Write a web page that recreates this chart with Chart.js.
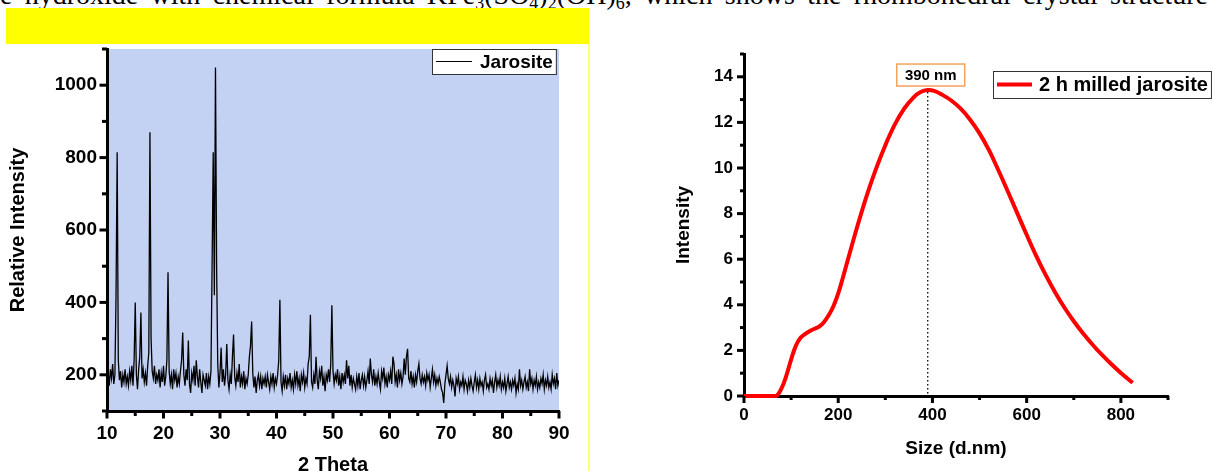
<!DOCTYPE html>
<html>
<head>
<meta charset="utf-8">
<script src="https://cdn.jsdelivr.net/npm/chart.js@4.4.1/dist/chart.umd.min.js"></script>
<style>
html,body{margin:0;padding:0;background:#fff;}
body{width:1213px;height:471px;overflow:hidden;position:relative;}
#topText{position:absolute;left:0;top:-19px;font:28px 'Liberation Serif','Times New Roman',serif;line-height:27px;white-space:nowrap;color:#000;}
#topText sub{font-size:18px;line-height:0;vertical-align:-5px;}
#yellowBar{position:absolute;left:6px;top:8px;width:583px;height:36px;background:#ffff00;}
#yellowLine{position:absolute;left:588px;top:44px;width:2px;height:427px;background:#ffff70;}
#c1{position:absolute;left:0;top:0;}
#c2{position:absolute;left:600px;top:0;}
</style>
</head>
<body>
<div id="topText">e hydroxide with chemical formula KFe<sub>3</sub>(SO<sub>4</sub>)<sub>2</sub>(OH)<sub>6</sub>, which shows the rhombohedral crystal structure</div>
<div id="yellowBar"></div>
<div id="yellowLine"></div>
<canvas id="c1" width="600" height="500"></canvas>
<canvas id="c2" width="613" height="471"></canvas>
<script>
// ---------------- DATA ----------------
// XRD pattern (Jarosite): intensity sampled every 0.2 degree 2-theta from 10 to 90
const xrdStart = 10;
const xrdStep = 0.2;
const xrdIntensity = [
  185,205,170,215,190,230,175,200,420,815,240,185,210,165,200,180,215,175,195,170,
  210,185,225,170,240,400,200,160,215,250,372,190,215,180,205,170,225,260,870,300,
  210,190,225,175,200,185,215,165,205,180,225,170,195,240,483,210,175,200,160,215,
  185,205,165,195,175,210,240,317,200,170,215,185,295,175,150,205,185,225,170,240,
  195,165,215,180,150,200,185,170,205,160,195,175,210,500,815,420,1049,500,230,165,
  205,275,180,215,170,200,285,185,160,200,175,250,311,195,170,205,180,230,165,195,
  175,210,160,190,175,200,250,280,347,205,165,195,150,185,200,170,195,160,190,175,
  195,165,200,180,160,195,175,205,165,190,175,200,240,407,180,155,195,170,200,160,
  190,175,205,165,185,160,200,175,210,170,190,155,200,180,205,165,190,175,230,250,
  366,180,165,200,175,250,185,160,210,190,225,170,195,155,200,185,215,180,230,392,
  210,175,200,185,215,170,195,160,205,180,200,175,240,190,225,170,200,165,190,175,
  160,195,170,205,160,185,200,170,195,165,185,210,175,245,200,180,215,170,195,175,
  205,180,160,210,190,220,175,195,165,200,185,210,175,250,230,180,200,165,215,185,
  205,175,195,245,200,250,272,190,180,210,175,195,165,200,180,210,230,190,175,200,
  180,195,170,205,185,200,165,190,215,180,200,170,190,175,195,180,160,150,122,175,
  200,225,190,175,195,165,185,170,140,190,175,195,160,180,170,195,160,185,175,155,
  185,165,190,170,155,180,200,165,185,160,190,170,180,155,185,200,165,175,160,190,
  170,185,150,180,200,165,185,170,195,160,180,165,190,155,175,195,165,180,160,185,
  170,190,150,175,160,215,170,185,160,180,195,165,180,155,215,175,190,160,185,170,
  195,160,180,165,190,175,200,160,185,170,195,165,180,160,200,175,190,160,205,170,
  185
];
const xrdLabel = 'Jarosite';

// DLS size distribution (2 h milled jarosite)
const sizeNm = [0,20,40,60,70,80,90,100,110,120,130,140,150,160,170,180,190,200,210,220,
  240,260,280,300,320,340,360,375,390,405,420,440,460,480,500,520,540,560,580,600,
  620,640,660,680,700,720,740,760,780,800,825];
const dlsIntensity = [0,0,0,0,0.02,0.35,0.9,1.6,2.2,2.55,2.72,2.85,2.95,3.05,3.25,3.55,3.95,4.5,5.2,5.94,
  7.4,8.76,9.95,11.0,11.9,12.6,13.1,13.33,13.42,13.37,13.22,12.96,12.6,12.12,11.52,10.78,9.9,8.97,8.02,7.07,
  6.16,5.32,4.56,3.88,3.28,2.74,2.25,1.8,1.39,1.01,0.58];
const dlsLabel = '2 h milled jarosite';

// axis titles
const xrdXTitle = '2 Theta';
const xrdYTitle = 'Relative Intensity';
const dlsXTitle = 'Size (d.nm)';
const dlsYTitle = 'Intensity';

// ---------------- top text fitting ----------------
(function(){
  const el = document.getElementById('topText');
  const w = el.getBoundingClientRect().width;
  const spaces = (el.textContent.match(/ /g) || []).length;
  el.style.wordSpacing = Math.max(0, (1208 - w) / spaces) + 'px';
})();

// ---------------- CHART SETUP ----------------
Chart.defaults.font.family = "'Liberation Sans', Arial, sans-serif";
Chart.defaults.color = '#000';

const decor = {
  id: 'decor',
  beforeDraw(chart, args, opts) {
    if (opts.areaColor) {
      const {ctx, chartArea: a} = chart;
      ctx.save();
      ctx.fillStyle = opts.areaColor;
      ctx.fillRect(a.left, a.top, a.right - a.left, a.bottom - a.top);
      ctx.restore();
    }
  },
  afterDraw(chart, args, opts) {
    const ctx = chart.ctx;
    // major + minor tick marks from the library's own ticks
    ['x', 'y'].forEach(id => {
      const s = chart.scales[id];
      const major = s.ticks.map(t => t.value);
      const minor = [];
      for (let i = 0; i < major.length - 1; i++) minor.push((major[i] + major[i + 1]) / 2);
      if (major.length > 1) {
        const half = (major[1] - major[0]) / 2;
        if (major[0] - half >= s.min - 1e-9) minor.unshift(major[0] - half);
        if (major[major.length - 1] + half <= s.max + 1e-9) minor.push(major[major.length - 1] + half);
      }
      ctx.save();
      ctx.strokeStyle = '#000';
      ctx.lineWidth = 3;
      const draw = (v, len) => {
        const p = s.getPixelForValue(v);
        ctx.beginPath();
        if (s.isHorizontal()) { ctx.moveTo(p, s.top); ctx.lineTo(p, s.top + len); }
        else { ctx.moveTo(s.right, p); ctx.lineTo(s.right - len, p); }
        ctx.stroke();
      };
      minor.forEach(v => draw(v, opts.minorLen));
      major.forEach(v => draw(v, opts.majorLen));
      ctx.restore();
    });
    // peak annotation
    if (opts.peak) {
      const ds = chart.data.datasets[0];
      const labels = chart.data.labels;
      let im = 0;
      ds.data.forEach((v, i) => { if (v > ds.data[im]) im = i; });
      const xs = chart.scales.x, ys = chart.scales.y;
      const px = xs.getPixelForValue(labels[im]);
      const py = ys.getPixelForValue(ds.data[im]);
      ctx.save();
      ctx.strokeStyle = '#000';
      ctx.lineWidth = 1.3;
      ctx.setLineDash([1.5, 2.5]);
      ctx.beginPath();
      ctx.moveTo(px, py + 2);
      ctx.lineTo(px, ys.bottom);
      ctx.stroke();
      ctx.setLineDash([]);
      const P = opts.peak;
      const bx = px + P.dx - P.w / 2, by = py - P.gap - P.h;
      ctx.fillStyle = '#fff';
      ctx.fillRect(bx, by, P.w, P.h);
      ctx.strokeStyle = P.border;
      ctx.lineWidth = 1.5;
      ctx.strokeRect(bx, by, P.w, P.h);
      ctx.fillStyle = '#000';
      ctx.font = P.font;
      ctx.textAlign = 'center';
      ctx.textBaseline = 'middle';
      ctx.fillText(labels[im] + ' nm', bx + P.w / 2, by + P.h / 2 + 1);
      ctx.restore();
    }
    // legend box
    if (opts.legend) {
      const L = opts.legend;
      const ds = chart.data.datasets[0];
      ctx.save();
      ctx.font = L.font;
      const tw = ctx.measureText(ds.label).width;
      const w = L.padL + L.lineLen + L.gap + tw + L.padR;
      ctx.fillStyle = '#fff';
      ctx.fillRect(L.x, L.y, w, L.h);
      ctx.strokeStyle = L.border;
      ctx.lineWidth = 1;
      ctx.strokeRect(L.x + 0.5, L.y + 0.5, w, L.h);
      ctx.strokeStyle = ds.borderColor;
      ctx.lineWidth = L.lineWidth;
      ctx.beginPath();
      ctx.moveTo(L.x + L.padL, L.y + L.h / 2);
      ctx.lineTo(L.x + L.padL + L.lineLen, L.y + L.h / 2);
      ctx.stroke();
      ctx.fillStyle = '#000';
      ctx.textAlign = 'left';
      ctx.textBaseline = 'middle';
      ctx.fillText(ds.label, L.x + L.padL + L.lineLen + L.gap, L.y + L.h / 2 + 1);
      ctx.restore();
    }
  }
};

function keepMultiples(step, lo, hi) {
  return s => { s.ticks = s.ticks.filter(t => Math.abs(t.value / step - Math.round(t.value / step)) < 1e-9 && t.value >= lo && t.value <= hi); };
}
const plainLabel = v => String(v);

// ---- Left chart: XRD ----
const twoTheta = xrdIntensity.map((_, i) => +(xrdStart + i * xrdStep).toFixed(1));
new Chart(document.getElementById('c1'), {
  type: 'line',
  data: {
    labels: twoTheta,
    datasets: [{
      label: xrdLabel,
      data: xrdIntensity,
      borderColor: '#000',
      borderWidth: 1.3,
      pointRadius: 0,
      tension: 0
    }]
  },
  plugins: [decor],
  options: {
    responsive: false,
    animation: false,
    devicePixelRatio: 1,
    layout: { padding: { left: 0, top: 49, right: 41, bottom: 0 } },
    plugins: {
      legend: { display: false },
      tooltip: { enabled: false },
      decor: {
        areaColor: '#c3d1f3',
        majorLen: 7.5, minorLen: 5,
        legend: { x: 432, y: 49, h: 25, padL: 4, lineLen: 36, gap: 8, padR: 3, font: "bold 19px 'Liberation Sans', Arial, sans-serif", border: '#333', lineWidth: 1 }
      }
    },
    scales: {
      x: {
        type: 'linear', min: 10, max: 90,
        ticks: { stepSize: 10, maxRotation: 0, padding: 11, font: { size: 19, weight: 'bold' }, callback: plainLabel },
        afterBuildTicks: keepMultiples(10, 10, 90),
        grid: { display: false, drawTicks: false },
        border: { display: true, width: 3, color: '#000' },
        title: { display: true, text: xrdXTitle, font: { size: 20, weight: 'bold' }, padding: { top: 0, bottom: 23 } },
        afterFit: s => { s.height = 89; }
      },
      y: {
        type: 'linear', min: 100, max: 1100,
        ticks: { stepSize: 100, padding: 10, font: { size: 19, weight: 'bold' }, callback: plainLabel },
        afterBuildTicks: keepMultiples(200, 200, 1000),
        grid: { display: false, drawTicks: false },
        border: { display: true, width: 3, color: '#000' },
        title: { display: true, text: xrdYTitle, font: { size: 20, weight: 'bold' }, padding: { top: 6, bottom: 0 } },
        afterFit: s => { s.width = 107; }
      }
    }
  }
});

// ---- Right chart: DLS ----
new Chart(document.getElementById('c2'), {
  type: 'line',
  data: {
    labels: sizeNm,
    datasets: [{
      label: dlsLabel,
      data: dlsIntensity,
      borderColor: '#ff0000',
      borderWidth: 4,
      pointRadius: 0,
      tension: 0.4,
      clip: false
    }]
  },
  plugins: [decor],
  options: {
    responsive: false,
    animation: false,
    devicePixelRatio: 1,
    layout: { padding: { left: 68, top: 54, right: 45, bottom: 0 } },
    plugins: {
      legend: { display: false },
      tooltip: { enabled: false },
      decor: {
        majorLen: 7, minorLen: 4,
        peak: { w: 68, h: 22, gap: 4, dx: 3, border: '#f3a25a', font: "bold 15px 'Liberation Sans', Arial, sans-serif" },
        legend: { x: 393, y: 71, h: 27, padL: 4, lineLen: 35, gap: 7, padR: 3, font: "bold 20px 'Liberation Sans', Arial, sans-serif", border: '#333', lineWidth: 4 }
      }
    },
    scales: {
      x: {
        type: 'linear', min: 0, max: 900,
        ticks: { stepSize: 200, maxRotation: 0, padding: 9, font: { size: 17, weight: 'bold' }, callback: plainLabel },
        afterBuildTicks: keepMultiples(200, 0, 800),
        grid: { display: false, drawTicks: false },
        border: { display: true, width: 3, color: '#000' },
        title: { display: true, text: dlsXTitle, font: { size: 19, weight: 'bold' }, padding: { top: 0, bottom: 10.6 } },
        afterFit: s => { s.height = 75; }
      },
      y: {
        type: 'linear', min: 0, max: 15,
        ticks: { stepSize: 2, padding: 11, font: { size: 17, weight: 'bold' }, callback: plainLabel },
        afterBuildTicks: keepMultiples(2, 0, 14),
        grid: { display: false, drawTicks: false },
        border: { display: true, width: 3, color: '#000' },
        title: { display: true, text: dlsYTitle, font: { size: 19, weight: 'bold' }, padding: { top: 4, bottom: 0 } },
        afterFit: s => { s.width = 76; }
      }
    }
  }
});
</script>
</body>
</html>
